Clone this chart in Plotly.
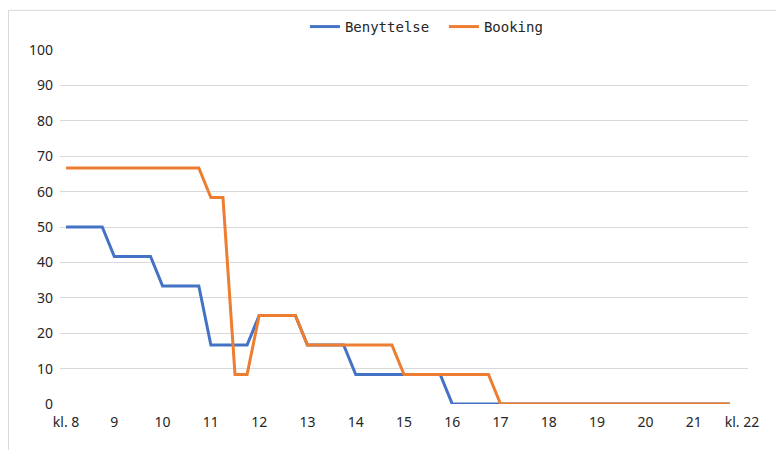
import plotly.graph_objects as go

# Time of day (hours), 15-minute slots from kl. 8 to 21:45
times = [8.00, 8.25, 8.50, 8.75, 9.00, 9.25, 9.50, 9.75,
         10.00, 10.25, 10.50, 10.75, 11.00, 11.25, 11.50, 11.75,
         12.00, 12.25, 12.50, 12.75, 13.00, 13.25, 13.50, 13.75,
         14.00, 14.25, 14.50, 14.75, 15.00, 15.25, 15.50, 15.75,
         16.00, 16.25, 16.50, 16.75, 17.00, 17.25, 17.50, 17.75,
         18.00, 18.25, 18.50, 18.75, 19.00, 19.25, 19.50, 19.75,
         20.00, 20.25, 20.50, 20.75, 21.00, 21.25, 21.50, 21.75]

benyttelse = [50, 50, 50, 50, 41.67, 41.67, 41.67, 41.67,
              33.33, 33.33, 33.33, 33.33, 16.67, 16.67, 16.67, 16.67,
              25, 25, 25, 25, 16.67, 16.67, 16.67, 16.67,
              8.33, 8.33, 8.33, 8.33, 8.33, 8.33, 8.33, 8.33,
              0, 0, 0, 0, 0, 0, 0, 0,
              0, 0, 0, 0, 0, 0, 0, 0,
              0, 0, 0, 0, 0, 0, 0, 0]

booking = [66.67, 66.67, 66.67, 66.67, 66.67, 66.67, 66.67, 66.67,
           66.67, 66.67, 66.67, 66.67, 58.33, 58.33, 8.33, 8.33,
           25, 25, 25, 25, 16.67, 16.67, 16.67, 16.67,
           16.67, 16.67, 16.67, 16.67, 8.33, 8.33, 8.33, 8.33,
           8.33, 8.33, 8.33, 8.33, 0, 0, 0, 0,
           0, 0, 0, 0, 0, 0, 0, 0,
           0, 0, 0, 0, 0, 0, 0, 0]

tick_vals = [8, 9, 10, 11, 12, 13, 14, 15, 16, 17, 18, 19, 20, 21, 22]
tick_text = ["kl. 8", "9", "10", "11", "12", "13", "14", "15", "16", "17",
             "18", "19", "20", "21", "kl. 22"]
y_ticks = [0, 10, 20, 30, 40, 50, 60, 70, 80, 90, 100]

fig = go.Figure()
fig.add_trace(go.Scatter(x=times, y=benyttelse, mode="lines", name="Benyttelse",
                         line=dict(color="#4472C4", width=3)))
fig.add_trace(go.Scatter(x=times, y=booking, mode="lines", name="Booking",
                         line=dict(color="#ED7D31", width=3)))

fig.update_layout(
    width=776, height=442,
    margin=dict(l=52, r=36, t=42, b=46, autoexpand=False),
    paper_bgcolor="white", plot_bgcolor="white",
    font=dict(family="Noto Sans", size=14, color="#262626"),
    showlegend=True,
    legend=dict(orientation="h", x=0.558, xanchor="center", y=1.065, yanchor="middle",
                font=dict(family="DejaVu Sans Mono", size=14, color="#262626"),
                itemwidth=30, tracegroupgap=0, entrywidth=94, entrywidthmode="pixels"),
    xaxis=dict(range=[7.875, 22.125], tickvals=tick_vals, ticktext=tick_text,
               showgrid=False, zeroline=False, showline=False, ticks="",
               ticklabelstandoff=8),
    yaxis=dict(range=[0, 100], tickvals=y_ticks, showgrid=True, gridcolor="#D9D9D9",
               gridwidth=1, zeroline=False, showline=False, ticks="",
               ticklabelstandoff=6),
    shapes=[dict(type="rect", xref="paper", yref="paper",
                 x0=-0.0749, x1=1.2, y0=-0.3, y1=1.112,
                 line=dict(color="#D9D9D9", width=1), fillcolor="rgba(0,0,0,0)")],
)

fig.write_html("out.html")
